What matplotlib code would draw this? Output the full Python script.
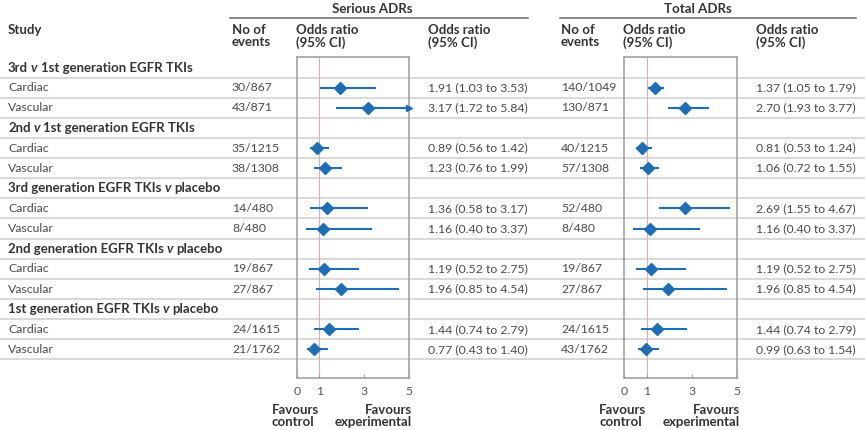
import numpy as np
import matplotlib
matplotlib.use("Agg")
import matplotlib.pyplot as plt

plt.rcParams['font.family'] = ['Lato', 'DejaVu Sans']

# data
groups = [("3rd", "1st generation EGFR TKIs"),
          ("2nd", "1st generation EGFR TKIs"),
          ("3rd generation EGFR TKIs", "placebo"),
          ("2nd generation EGFR TKIs", "placebo"),
          ("1st generation EGFR TKIs", "placebo")]
outcomes = ["Cardiac", "Vascular"]

serious_events = ["30/867", "43/871", "35/1215", "38/1308", "14/480",
                  "8/480", "19/867", "27/867", "24/1615", "21/1762"]
serious_or = [1.91, 3.17, 0.89, 1.23, 1.36, 1.16, 1.19, 1.96, 1.44, 0.77]
serious_lo = [1.03, 1.72, 0.56, 0.76, 0.58, 0.40, 0.52, 0.85, 0.74, 0.43]
serious_hi = [3.53, 5.84, 1.42, 1.99, 3.17, 3.37, 2.75, 4.54, 2.79, 1.40]

total_events = ["140/1049", "130/871", "40/1215", "57/1308", "52/480",
                "8/480", "19/867", "27/867", "24/1615", "43/1762"]
total_or = [1.37, 2.70, 0.81, 1.06, 2.69, 1.16, 1.19, 1.96, 1.44, 0.99]
total_lo = [1.05, 1.93, 0.53, 0.72, 1.55, 0.40, 0.52, 0.85, 0.74, 0.63]
total_hi = [1.79, 3.77, 1.24, 1.55, 4.67, 3.37, 2.75, 4.54, 2.79, 1.54]

xticks = [0, 1, 3, 5]

# style
W, H = 865, 430
BLUE = '#1f6db3'
TXT = '#4a4a4a'
BOLD = '#333333'
GRID = '#d6d6d6'
FS = 8.8
FB = 9.5
BW = 'bold'
row0, pitch = 67.5, 20.14
box_top, box_bot = 57, 378

fig = plt.figure(figsize=(W / 100, H / 100), dpi=100)
bg = fig.add_axes([0, 0, 1, 1])
bg.set_xlim(0, W)
bg.set_ylim(H, 0)
bg.axis('off')

def txt(x, y, s, bold=False, **kw):
    return bg.text(x, y, s, fontsize=FB if bold else FS,
                   color=BOLD if bold else TXT,
                   fontweight=BW if bold else 'normal', va='center', **kw)

# top headers
bg.text(372, 9, "Serious ADRs", fontsize=FB, fontweight=BW, color=BOLD,
        ha='center', va='center')
bg.text(698, 9, "Total ADRs", fontsize=FB, fontweight=BW, color=BOLD,
        ha='center', va='center')
bg.plot([230, 528], [17.5, 17.5], color='#666666', lw=1.1)
bg.plot([560, 856], [17.5, 17.5], color='#666666', lw=1.1)

txt(8, 30, "Study", bold=True)
for x, s in [(232, "No of\nevents"), (296, "Odds ratio\n(95% CI)"),
             (428, "Odds ratio\n(95% CI)"), (561, "No of\nevents"),
             (623, "Odds ratio\n(95% CI)"), (756, "Odds ratio\n(95% CI)")]:
    bg.text(x, 36.5, s, fontsize=FB, fontweight=BW, color=BOLD,
            va='center', linespacing=1.0)

# rows
row_y = []
k = 0
for gi, (a, b) in enumerate(groups):
    yg = row0 + pitch * (3 * gi)
    t1 = txt(8, yg, a, bold=True)
    t2 = bg.annotate("v", xy=(1, 0), xycoords=t1, xytext=(2.2, 0),
                     textcoords='offset points', fontsize=FB, color=BOLD,
                     fontweight=BW, fontstyle='italic', va='bottom')
    bg.annotate(b, xy=(1, 0), xycoords=t2, xytext=(2.2, 0),
                textcoords='offset points', fontsize=FB, color=BOLD,
                fontweight=BW, va='bottom')
    for oi, name in enumerate(outcomes):
        y = yg + pitch * (oi + 1)
        row_y.append(y)
        txt(8, y, name)
        txt(232, y, serious_events[k])
        txt(428, y, f"{serious_or[k]:.2f} ({serious_lo[k]:.2f} to {serious_hi[k]:.2f})")
        txt(561, y, total_events[k])
        txt(756, y, f"{total_or[k]:.2f} ({total_lo[k]:.2f} to {total_hi[k]:.2f})")
        k += 1

for i in range(15):
    yl = row0 + pitch * i + 10
    bg.plot([0, W], [yl, yl], color=GRID, lw=1.3, zorder=0)

def forest(x0, x1, orv, lo, hi, fav_left, fav_right):
    ax = fig.add_axes([x0 / W, 1 - box_bot / H, (x1 - x0) / W,
                       (box_bot - box_top) / H])
    ax.patch.set_alpha(0)
    ax.set_xlim(0, 5)
    ax.set_ylim(box_bot, box_top)
    for s in ax.spines.values():
        s.set_color('#9a9a9a')
        s.set_linewidth(1.1)
    ax.set_yticks([])
    ax.set_xticks(xticks)
    ax.tick_params(axis='x', direction='in', length=3, color='#9a9a9a',
                   labelsize=FS, labelcolor='#555555', pad=6)
    ax.axvline(1, color='#f2a5ad', lw=0.8, zorder=1)
    for y, o, l, h in zip(row_y, orv, lo, hi):
        ax.plot([l, min(h, 5)], [y, y], color=BLUE, lw=1.5,
                solid_capstyle='butt', zorder=2)
        if h > 5:
            ax.plot([5], [y], marker='>', color=BLUE, markersize=5,
                    clip_on=False, zorder=3)
        ax.plot([o], [y], marker='D', color=BLUE, markersize=6, zorder=3)
    bg.text(fav_left, 416, "Favours\ncontrol", fontsize=FB, fontweight=BW,
            color=BOLD, va='center', ha='left', linespacing=1.0)
    bg.text(fav_right, 416, "Favours\nexperimental", fontsize=FB,
            fontweight=BW, color=BOLD, va='center', ha='right',
            multialignment='right', linespacing=1.0)
    return ax

forest(297, 409, serious_or, serious_lo, serious_hi, 272, 412)
forest(624, 737, total_or, total_lo, total_hi, 599, 740)

fig.savefig("out.png", dpi=100)
